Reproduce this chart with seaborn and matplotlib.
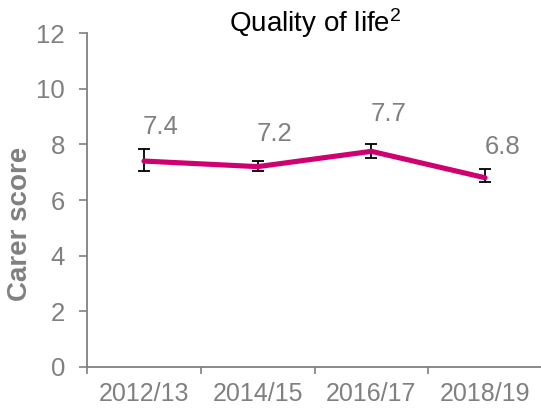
import matplotlib
matplotlib.use("Agg")
import matplotlib.pyplot as plt
import seaborn as sns
import pandas as pd
import numpy as np

years = ["2012/13", "2014/15", "2016/17", "2018/19"]
scores = [7.4, 7.2, 7.75, 6.8]
labels = ["7.4", "7.2", "7.7", "6.8"]
err_low = [0.36, 0.17, 0.23, 0.17]
err_high = [0.43, 0.2, 0.26, 0.32]
label_offsets = [0.97, 0.92, 1.10, 0.84]

sns.set_theme(style="white")
plt.rcParams['font.family'] = ['Liberation Sans', 'DejaVu Sans']
plt.rcParams['mathtext.fontset'] = 'custom'
plt.rcParams['mathtext.rm'] = 'Liberation Sans'
plt.rcParams['mathtext.it'] = 'Liberation Sans'
plt.rcParams['mathtext.bf'] = 'Liberation Sans:bold'

gray = "#808080"
pink = "#D10070"

fig = plt.figure(figsize=(5.41, 4.08), dpi=100)
ax = fig.add_axes([0.161, 0.1005, 0.845, 0.8185])

df = pd.DataFrame({"x": np.arange(len(years)), "score": scores})
sns.lineplot(data=df, x="x", y="score", ax=ax, color=pink, linewidth=3.7, zorder=3)
ax.errorbar(df["x"], df["score"], yerr=[err_low, err_high], fmt="none",
            ecolor="black", elinewidth=1.3, capsize=4.5, capthick=1.3, zorder=2)

for i, (v, lab, off) in enumerate(zip(scores, labels, label_offsets)):
    ax.text(i + 0.15, v + off, lab, color=gray, fontsize=18.5, ha="center", va="baseline")

ax.set_xlim(-0.5, 3.52)
ax.set_ylim(0, 12)
ax.set_yticks(range(0, 13, 2))
ax.set_xticks([-0.5, 0.5, 1.5, 2.5])
ax.set_xticklabels([])
ax.set_xticks(range(4), minor=True)
ax.set_xticklabels(years, minor=True)
ax.tick_params(axis="x", which="minor", length=0, labelsize=18, labelcolor=gray, pad=10.5)
ax.tick_params(axis="x", which="major", direction="out", length=5, color=gray, width=1.2, bottom=True)
ax.tick_params(axis="y", direction="out", length=6, color=gray, width=1.2, labelsize=18.5,
               labelcolor=gray, left=True, pad=10)

for s in ["top", "right"]:
    ax.spines[s].set_visible(False)
for s in ["left", "bottom"]:
    ax.spines[s].set_color(gray)
    ax.spines[s].set_linewidth(1.3)

ax.set_xlabel("")
ax.set_ylabel("Carer score", color=gray, fontsize=20, fontweight="bold")
ax.yaxis.set_label_coords(-0.118, 0.428)
ax.set_title("Quality of life$^{\\mathregular{2}}$", fontsize=20, color="black", pad=1)

fig.savefig("out.png", dpi=100)
